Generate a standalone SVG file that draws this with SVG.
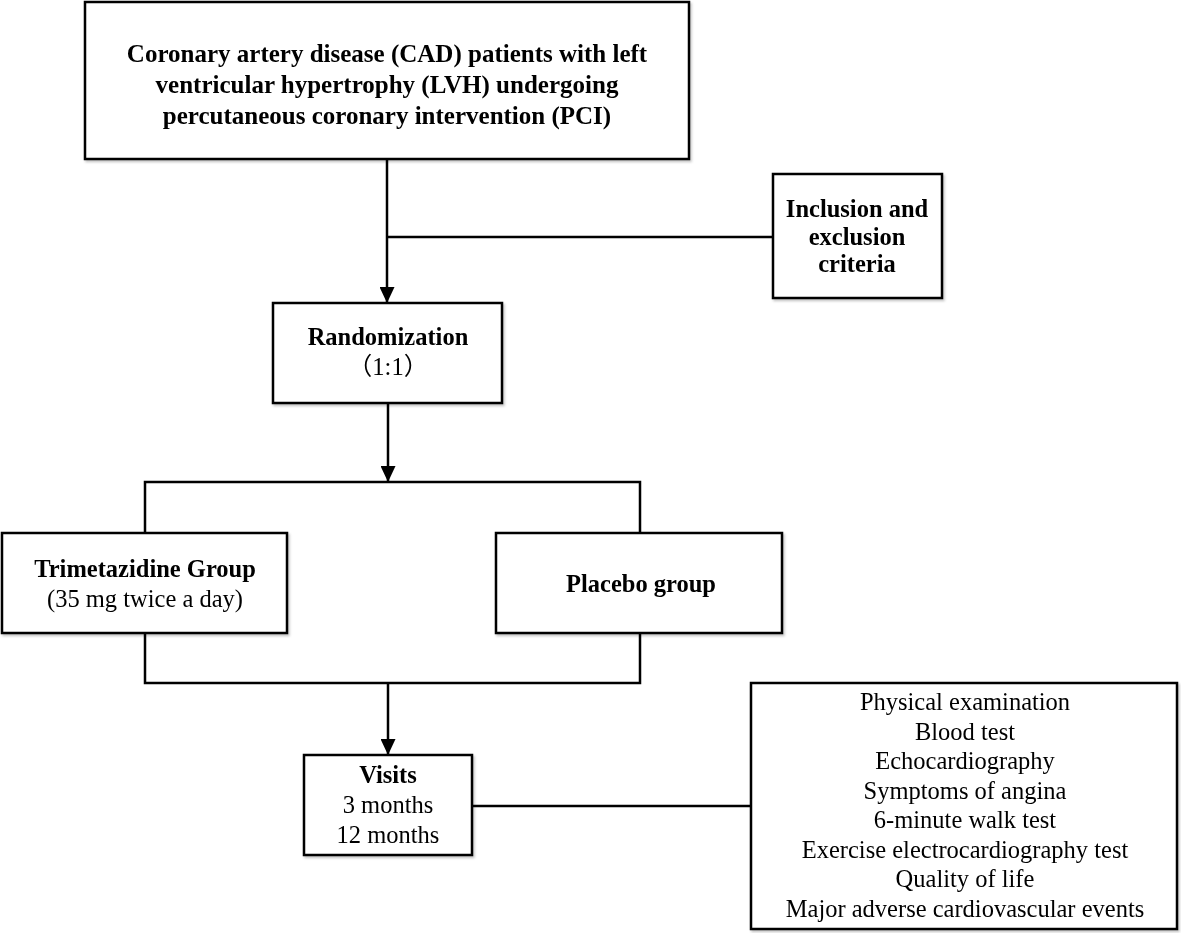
<svg xmlns="http://www.w3.org/2000/svg" width="1181" height="933" viewBox="0 0 1181 933">
<style>
.box{fill:#fff;stroke:#000;stroke-width:2.5}
.ln{fill:none;stroke:#000;stroke-width:2.5}
text{font-family:"Liberation Serif","Noto Sans CJK SC",serif;fill:#000;text-anchor:middle;font-size:24.5px}
.b{font-weight:bold}
.t{font-size:25px}
.sh{filter:url(#shadow)}
</style>
<defs>
<filter id="shadow" x="-10%" y="-10%" width="120%" height="130%">
<feDropShadow dx="1.5" dy="2" stdDeviation="1.3" flood-color="#000" flood-opacity="0.22"/>
</filter>
<marker id="ah" viewBox="0 0 16 15" refX="16" refY="7.5" markerWidth="16" markerHeight="15" markerUnits="userSpaceOnUse" orient="auto">
<path d="M0,0 L16,7.5 L0,15 Z" fill="#000"/>
</marker>
</defs>
<g id="connectors">
<path class="ln" d="M387,159 V303" marker-end="url(#ah)"/>
<path class="ln" d="M387,237 H773"/>
<path class="ln" d="M388,403 V482" marker-end="url(#ah)"/>
<path class="ln" d="M145,533 V482 H640 V533"/>
<path class="ln" d="M145,633 V683 H640 V633"/>
<path class="ln" d="M388,683 V755" marker-end="url(#ah)"/>
<path class="ln" d="M472,806 H751"/>
</g>
<g id="n_cad" class="sh">
<rect class="box" x="85" y="2" width="604" height="157"/>
<text class="b t" x="387" y="62">Coronary artery disease (CAD) patients with left</text>
<text class="b t" x="387" y="93">ventricular hypertrophy (LVH) undergoing</text>
<text class="b t" x="387" y="124">percutaneous coronary intervention (PCI)</text>
</g>
<g id="n_incl" class="sh">
<rect class="box" x="773" y="174" width="169" height="124"/>
<text class="b" x="857" y="217">Inclusion and</text>
<text class="b" x="857" y="245">exclusion</text>
<text class="b" x="857" y="272">criteria</text>
</g>
<g id="n_rand" class="sh">
<rect class="box" x="273" y="303" width="229" height="100"/>
<text class="b" x="388" y="345">Randomization</text>
<text x="388" y="375">（1:1）</text>
</g>
<g id="n_tmz" class="sh">
<rect class="box" x="2" y="533" width="285" height="100"/>
<text class="b" x="145" y="577">Trimetazidine Group</text>
<text x="145" y="607">(35 mg twice a day)</text>
</g>
<g id="n_placebo" class="sh">
<rect class="box" x="496" y="533" width="286" height="100"/>
<text class="b" x="641" y="592">Placebo group</text>
</g>
<g id="n_visits" class="sh">
<rect class="box" x="304" y="755" width="168" height="100"/>
<text class="b" x="388" y="783">Visits</text>
<text x="388" y="813">3 months</text>
<text x="388" y="843">12 months</text>
</g>
<g id="n_outcomes" class="sh">
<rect class="box" x="751" y="683" width="426" height="246"/>
<text x="965" y="710">Physical examination</text>
<text x="965" y="740">Blood test</text>
<text x="965" y="769">Echocardiography</text>
<text x="965" y="799">Symptoms of angina</text>
<text x="965" y="828">6-minute walk test</text>
<text x="965" y="858">Exercise electrocardiography test</text>
<text x="965" y="887">Quality of life</text>
<text x="965" y="917">Major adverse cardiovascular events</text>
</g>
</svg>
